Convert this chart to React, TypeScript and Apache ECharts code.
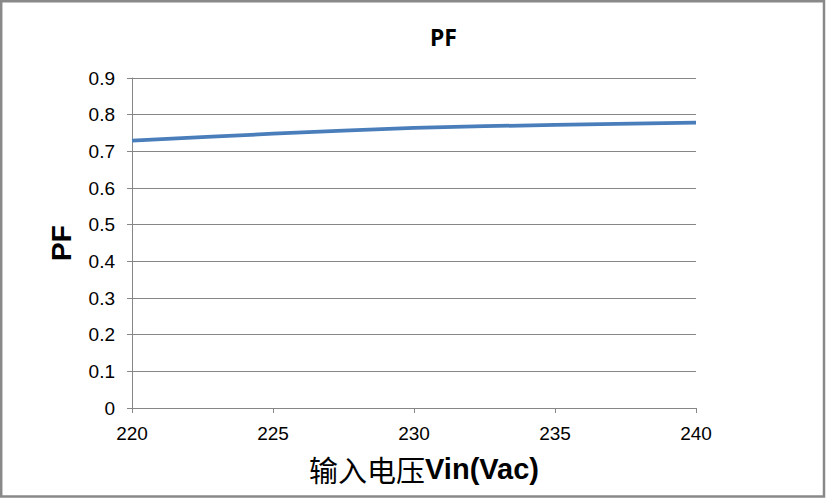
import React, { useEffect, useRef } from "react";
import * as echarts from "echarts";

const voltages = [220, 225, 230, 235, 240];
const pfValues = [0.729, 0.748, 0.764, 0.772, 0.778];
const titleText = "PF";
const yAxisName = "PF";
const xAxisNameCn = "输入电压";
const xAxisNameEn = "Vin(Vac)";

export default function App() {
  const ref = useRef<HTMLDivElement>(null);
  useEffect(() => {
    if (!ref.current) return;
    const chart = echarts.init(ref.current, undefined, { renderer: "svg" });
    const gray = "#868686";
    chart.setOption({
      animation: false,
      backgroundColor: "#ffffff",
      title: {
        text: titleText,
        left: 425,
        top: 20,
        textStyle: {
          fontFamily: "Noto Sans",
          fontWeight: "bold",
          fontSize: 23,
          color: "#000",
        },
      },
      graphic: [
        {
          type: "rect",
          shape: { x: 1.2, y: 1.2, width: 822.8, height: 495.3 },
          style: { fill: "none", stroke: "#898989", lineWidth: 2.5 },
          silent: true,
          z: 100,
        },
      ],
      grid: { left: 132, right: 130, top: 78, bottom: 90, containLabel: false },
      xAxis: {
        type: "value",
        min: 220,
        max: 240,
        interval: 5,
        name: `{a|${xAxisNameCn}}{b|${xAxisNameEn}}`,
        nameLocation: "middle",
        nameGap: 46,
        nameTextStyle: {
          rich: {
            a: { fontFamily: "Noto Sans CJK SC", fontSize: 29, color: "#000" },
            b: { fontFamily: "Liberation Sans", fontWeight: "bold", fontSize: 29, color: "#000" },
          },
          padding: [0, 0, 0, 20],
        },
        axisLine: { show: true, lineStyle: { color: gray, width: 1 } },
        axisTick: { show: true, length: 5, inside: false, lineStyle: { color: gray } },
        axisLabel: {
          margin: 16,
          fontFamily: "Liberation Sans",
          fontSize: 19,
          color: "#000",
        },
        splitLine: { show: false },
      },
      yAxis: {
        type: "value",
        min: 0,
        max: 0.9,
        interval: 0.1,
        name: yAxisName,
        nameLocation: "middle",
        nameGap: 57,
        nameRotate: 90,
        nameTextStyle: {
          fontFamily: "Liberation Sans",
          fontWeight: "bold",
          fontSize: 28,
          color: "#000",
        },
        axisLine: { show: true, lineStyle: { color: gray, width: 1 } },
        axisTick: { show: true, length: 5, inside: false, lineStyle: { color: gray } },
        axisLabel: {
          margin: 17,
          fontFamily: "Liberation Sans",
          fontSize: 19,
          color: "#000",
          formatter: (v: number) => String(Number(v.toFixed(1))),
        },
        splitLine: { show: true, lineStyle: { color: gray, width: 1 } },
      },
      series: [
        {
          type: "line",
          data: voltages.map((v, i) => [v, pfValues[i]]),
          showSymbol: false,
          smooth: 0.3,
          lineStyle: { color: "#4A7EBB", width: 3.75 },
          itemStyle: { color: "#4A7EBB" },
        },
      ],
    });
    return () => chart.dispose();
  }, []);
  return (
    <div
      ref={ref}
      style={{ position: "absolute", left: 0, top: 0, width: 826, height: 498 }}
    />
  );
}
